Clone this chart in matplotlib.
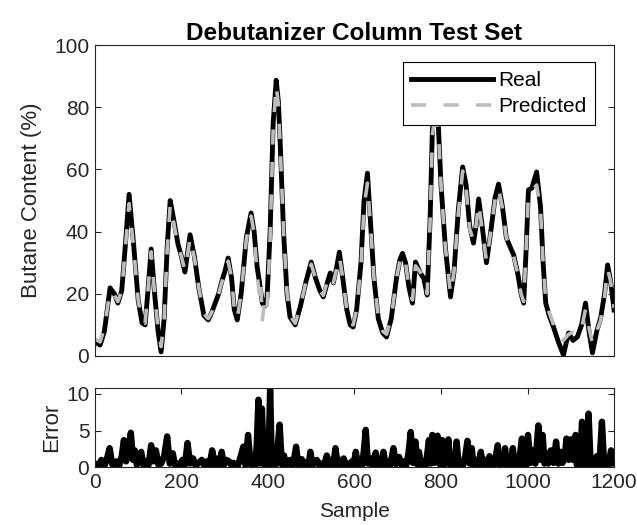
import matplotlib
matplotlib.use("Agg")
import matplotlib.pyplot as plt

plt.rcParams['font.family'] = ['Liberation Sans', 'DejaVu Sans']

# ---------------- data ----------------
real_x = [0, 12, 22, 35, 45, 53, 62, 70, 79, 90, 100, 109, 116, 122, 130, 138, 146, 153, 160, 167,
          174, 182, 192, 200, 208, 214, 220, 230, 240, 252, 262, 270, 278, 286, 294, 300, 308, 316, 322, 329,
          338, 350, 361, 368, 375, 380, 383, 387, 392, 398, 405, 412, 419, 424, 428, 436, 444, 451, 463, 475,
          488, 500, 510, 520, 528, 536, 544, 551, 558, 565, 573, 582, 590, 597, 605, 615, 622, 630, 637, 645,
          655, 665, 674, 685, 697, 705, 711, 718, 726, 734, 741, 752, 760, 768, 775, 780, 788, 794, 800, 810,
          822, 830, 840, 850, 858, 866, 875, 881, 887, 895, 905, 915, 925, 933, 942, 951, 960, 968, 978, 985,
          991, 997, 1002, 1010, 1021, 1030, 1036, 1042, 1050, 1060, 1070, 1083, 1089, 1095, 1105, 1115, 1125, 1134, 1142, 1150,
          1160, 1169, 1178, 1185, 1192, 1200]
real_y = [4.5, 3.5, 8, 21.9, 20, 17, 21, 35, 52, 35, 18, 10.6, 10, 20, 34.4, 20, 8, 1.3, 12, 35,
          50, 44, 36, 32, 27, 33, 39, 32, 22, 13, 11.6, 14, 17, 20, 24.4, 27, 31.5, 25, 15, 11.6,
          20, 38, 46, 40, 28.6, 24, 21, 17, 16, 19, 40, 75, 88.7, 82, 69.5, 40, 20, 12.5, 10, 16,
          24, 30.2, 25, 21, 19, 23, 26.7, 23.5, 28, 33.4, 25, 15, 10, 9.3, 15, 30, 50, 58.8, 42.8, 25,
          12, 7.5, 6.1, 12, 25, 31, 33, 30, 22, 17, 30.2, 26.7, 25, 19.6, 45, 72.7, 82, 73.6, 55, 35,
          19, 27, 47, 60.8, 55, 42, 36.3, 42, 50.5, 42, 30, 40, 51, 55.3, 48, 38, 35, 32.5, 26, 20,
          17, 35, 53.4, 54, 59.2, 48, 30, 17, 13, 9.3, 5, 0.3, 4, 7.4, 5, 6.1, 10, 17, 8, 1,
          8, 12.2, 20, 29.3, 24, 14.8]

pred_x = real_x
pred_y = [5.5, 4.5, 9, 21, 19.5, 17.5, 21, 34, 49, 34, 18, 11, 10.5, 20, 33.5, 20, 8.5, 3, 12, 34,
          48.5, 43, 35.5, 32, 27.5, 32.5, 38, 31.5, 22, 13.5, 12, 14, 17, 20, 24, 27, 30.5, 25, 15.5, 12,
          20, 37.5, 45, 39.5, 26, 20, 24, 11.6, 18, 15, 38, 73, 87, 81, 68.5, 40, 20.5, 13, 10.5, 16,
          24, 29.5, 25, 21, 19.5, 23.5, 26, 23.5, 27.5, 32, 25, 15, 10.5, 10, 15, 29, 48, 55.6, 42, 25,
          12.5, 8, 7, 12, 25, 30.5, 32.5, 30, 22, 18, 29, 27, 25, 20, 44, 71, 80, 72, 55, 35,
          20, 27, 46, 59.5, 54, 41, 37, 42, 49, 41, 30.5, 40, 50.5, 54, 47.5, 38, 35, 32, 26, 20,
          17.5, 35, 52, 53, 55, 47, 30, 18, 14, 10, 6, 5, 6, 7, 7.5, 6.5, 9, 15, 9, 4,
          8, 11.5, 19, 28, 24, 15.5]

err_x = [0, 8, 15, 22, 28, 34, 40, 43, 50, 56, 62, 67, 72, 78, 83, 88, 92, 97, 102, 107,
         112, 118, 124, 130, 135, 141, 147, 153, 160, 167, 173, 180, 185, 190, 196, 202, 208, 214, 220, 227,
         233, 240, 247, 253, 259, 265, 271, 278, 285, 289, 293, 298, 304, 310, 316, 320, 325, 331, 337, 343,
         348, 354, 360, 366, 371, 374, 378, 382, 386, 391, 397, 401, 405, 409, 413, 418, 422, 427, 432, 437,
         442, 447, 451, 456, 460, 465, 470, 474, 478, 484, 490, 494, 498, 503, 508, 513, 519, 524, 530, 536,
         541, 547, 551, 556, 561, 566, 570, 575, 580, 585, 590, 594, 598, 603, 608, 614, 618, 622, 626, 631,
         637, 641, 645, 649, 653, 656, 661, 667, 672, 678, 683, 690, 696, 703, 709, 715, 720, 725, 730, 735,
         741, 745, 749, 754, 760, 765, 772, 776, 780, 785, 792, 797, 803, 807, 812, 817, 821, 826, 831, 836,
         841, 846, 851, 856, 861, 866, 871, 875, 880, 886, 892, 897, 903, 908, 912, 916, 921, 926, 931, 935,
         939, 944, 948, 952, 956, 961, 966, 970, 973, 978, 982, 987, 990, 994, 997, 1001, 1007, 1013, 1018, 1025,
         1030, 1035, 1039, 1043, 1048, 1054, 1060, 1066, 1071, 1076, 1081, 1086, 1090, 1095, 1100, 1105, 1111, 1114, 1117, 1121,
         1126, 1129, 1132, 1136, 1141, 1146, 1151, 1156, 1160, 1166, 1172, 1177, 1182, 1187, 1193, 1197, 1200]
err_y = [0.5, 0.2, 1.0, 0.2, 1.2, 2.6, 0.4, 0.3, 0.8, 0.2, 1.5, 3.7, 0.8, 2.5, 4.7, 1.0, 2.3, 0.3, 1.5, 2.1,
         0.3, 0.8, 0.3, 3.0, 0.8, 2.3, 0.3, 0.5, 1.5, 4.2, 0.5, 1.9, 0.3, 0.5, 0.2, 1.0, 0.3, 3.3, 0.5, 1.2,
         0.2, 0.6, 1.0, 0.2, 0.8, 0.3, 2.3, 0.3, 1.2, 0.3, 2.1, 0.3, 1.0, 0.8, 0.2, 0.6, 0.3, 0.3, 1.5, 2.8,
         0.3, 4.4, 0.4, 1.0, 0.3, 3.0, 9.2, 0.5, 8.0, 0.4, 1.0, 0.3, 10.6, 0.4, 1.1, 0.3, 2.5, 5.8, 0.4, 1.6,
         0.3, 0.8, 1.0, 0.2, 1.0, 2.8, 0.3, 0.8, 1.1, 0.2, 0.7, 0.3, 2.1, 0.3, 0.6, 1.0, 0.2, 0.5, 0.3, 1.6,
         0.3, 1.0, 0.3, 2.6, 0.3, 1.0, 0.3, 1.2, 0.3, 0.5, 0.2, 0.8, 0.3, 2.1, 0.3, 0.8, 0.3, 2.5, 5.1, 0.5,
         1.2, 0.3, 1.0, 2.0, 0.3, 0.8, 0.3, 2.1, 0.3, 0.8, 0.3, 2.6, 0.4, 1.4, 0.3, 0.8, 0.3, 2.0, 4.8, 0.6,
         3.5, 0.4, 2.1, 0.3, 0.8, 0.3, 3.7, 0.5, 4.4, 0.6, 4.3, 0.4, 3.7, 0.3, 0.8, 3.8, 0.3, 0.8, 0.3, 3.5,
         0.3, 0.8, 0.3, 1.5, 3.6, 0.5, 2.6, 0.3, 1.0, 0.3, 2.1, 0.3, 1.0, 0.3, 1.5, 1.0, 0.2, 1.2, 3.0, 0.3,
         1.0, 0.3, 2.6, 0.3, 0.8, 0.3, 2.6, 0.3, 0.8, 0.2, 1.5, 3.9, 0.3, 1.4, 0.3, 4.4, 0.6, 2.3, 0.5, 5.7,
         1.0, 4.4, 0.5, 1.9, 0.5, 2.3, 0.6, 3.5, 0.5, 2.1, 0.6, 1.5, 3.9, 1.0, 3.8, 1.0, 4.4, 0.3, 1.4, 0.3,
         6.2, 0.3, 1.4, 0.3, 7.3, 0.3, 0.8, 0.3, 1.5, 0.3, 6.2, 0.3, 0.8, 0.3, 2.3, 0.5, 1.6]

title = "Debutanizer Column Test Set"
xticks = [0, 200, 400, 600, 800, 1000, 1200]
yticks_top = [0, 20, 40, 60, 80, 100]
yticks_err = [0, 5, 10]

# ---------------- figure ----------------
axcol = '#262626'
fig = plt.figure(figsize=(6.37, 5.25), dpi=100)
ax1 = fig.add_axes([0.149, 0.322, 0.815, 0.592])
ax2 = fig.add_axes([0.149, 0.110, 0.815, 0.151])

ax1.plot(real_x, real_y, color='black', lw=3.5, label='Real', solid_joinstyle='round')
ax1.plot(pred_x, pred_y, color='#bdbdbd', lw=2.6, linestyle=(0, (4.2, 4.8)), label='Predicted')
ax1.set_xlim(0, 1200)
ax1.set_ylim(0, 100)
ax1.set_xticks([])
ax1.set_yticks(yticks_top)
ax1.set_ylabel('Butane Content (%)', fontsize=16, color=axcol, labelpad=9)
ax1.set_title(title, fontsize=17.5, fontweight='bold', pad=4)
leg = ax1.legend(loc='upper right', bbox_to_anchor=(0.963, 0.945), fontsize=15, handlelength=3.9,
                 fancybox=False, edgecolor='black', framealpha=1, borderpad=0.42,
                 labelspacing=0.35, handletextpad=0.25, borderaxespad=0)
leg.get_frame().set_linewidth(0.8)

ax2.plot(err_x, err_y, color='black', lw=4.6, solid_joinstyle='round')
ax2.set_xlim(0, 1200)
ax2.set_ylim(0, 10.8)
ax2.set_xticks(xticks)
ax2.set_yticks(yticks_err)
ax2.set_ylabel('Error', fontsize=16, color=axcol, labelpad=3)
ax2.set_xlabel('Sample', fontsize=15, color=axcol, labelpad=7)

for ax in (ax1, ax2):
    for s in ax.spines.values():
        s.set_color(axcol)
        s.set_linewidth(0.8)
    ax.tick_params(direction='in', length=4, width=0.8, color=axcol, labelcolor=axcol,
                   labelsize=15, pad=4, right=True, top=(ax is ax2))

fig.savefig('out.png', dpi=100)
